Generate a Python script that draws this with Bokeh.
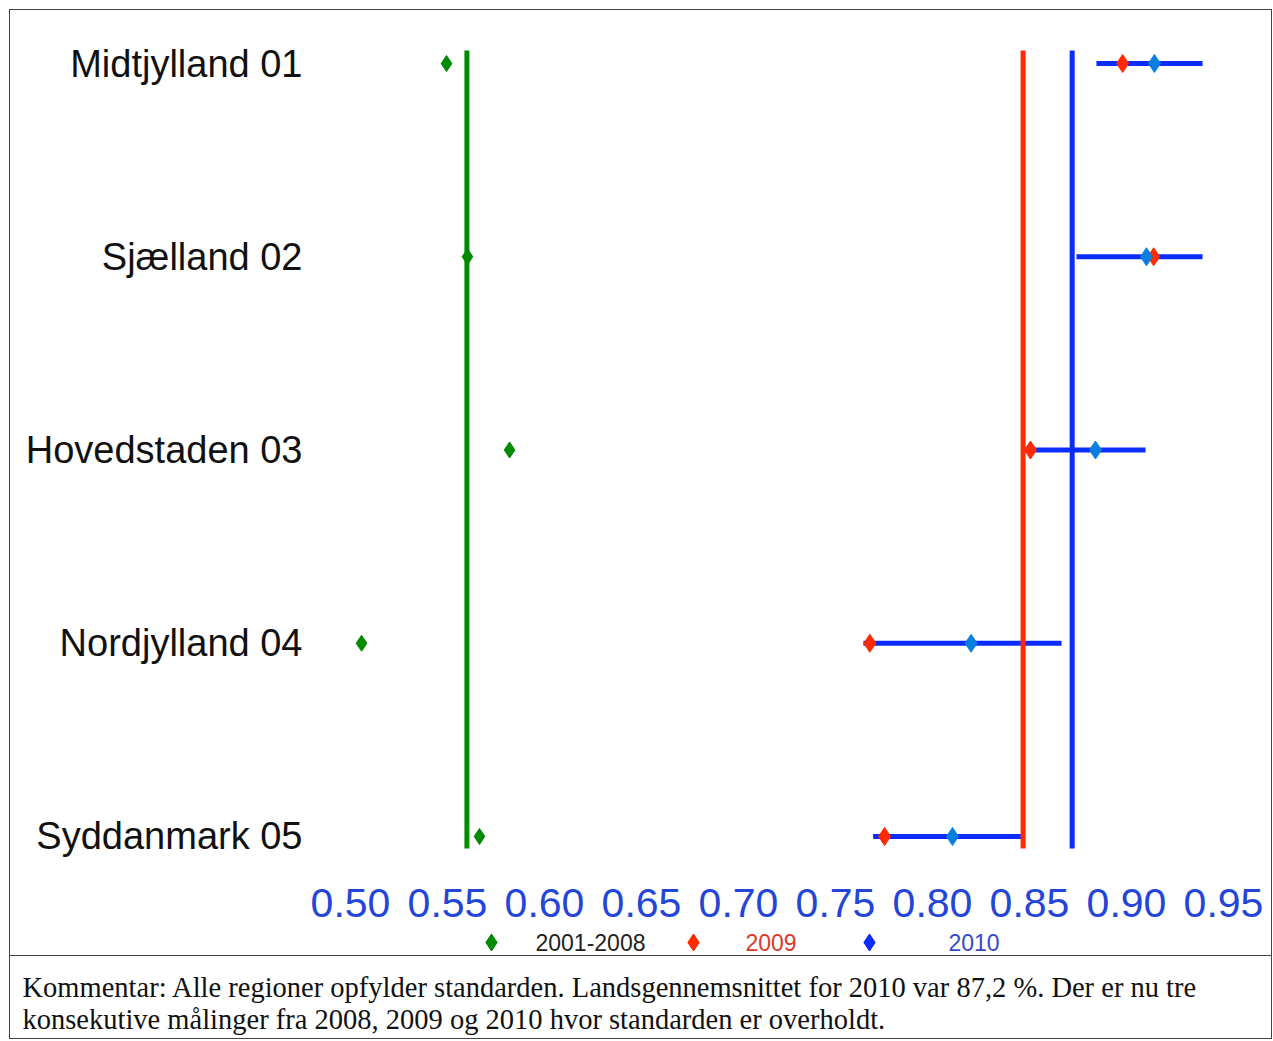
from bokeh.plotting import figure
from bokeh.models import FixedTicker, Range1d, Label, PrintfTickFormatter
from bokeh.layouts import column
from bokeh.core.properties import value
from bokeh.embed import file_html
from bokeh.resources import INLINE

# ---------------- data ----------------
regions = ["Midtjylland 01", "Sjælland 02", "Hovedstaden 03", "Nordjylland 04", "Syddanmark 05"]
avg_2001_2008 = [0.5495, 0.5603, 0.582, 0.5057, 0.5665]
val_2009 = [0.898, 0.9140, 0.8505, 0.7677, 0.7753]
val_2010 = [0.9144, 0.9103, 0.884, 0.8199, 0.8103]
ci_low_2010 = [0.8845, 0.8742, 0.848, 0.7644, 0.7694]
ci_high_2010 = [0.9392, 0.9392, 0.9098, 0.8665, 0.8459]
national_2001_2008 = 0.560
national_2009 = 0.8467
national_2010 = 0.872
x_ticks = [0.50, 0.55, 0.60, 0.65, 0.70, 0.75, 0.80, 0.85, 0.90, 0.95]
legend_labels = ["2001-2008", "2009", "2010"]
comment_lines = [
    "Kommentar: Alle regioner opfylder standarden. Landsgennemsnittet for 2010 var 87,2 %. Der er nu tre",
    "konsekutive målinger fra 2008, 2009 og 2010 hvor standarden er overholdt.",
]

# ---------------- styles ----------------
GREEN = "#008a00"
RED = "#ff2a00"
BLUE = "#0a2cff"
BLUE_PT = "#0a7fe0"
SANS = "Liberation Sans"
W = 1261
BL, BR = 309, 2  # left / right borders of the chart and legend row

n = len(regions)
ypos = [n - i for i in range(n)]

p = figure(width=W, height=920,
           x_range=Range1d(0.484021, 0.973711), y_range=Range1d(0.8137, 5.1708),
           output_backend="svg", toolbar_location=None,
           min_border_left=BL, min_border_right=BR, min_border_top=20, min_border_bottom=58)
p.outline_line_color = None
p.grid.visible = False

# error bars 2010
p.segment(x0=ci_low_2010, x1=ci_high_2010, y0=ypos, y1=ypos, line_color=BLUE, line_width=5)

# national reference lines
ylo, yhi = 0.938, 5.067
for xv, col in [(national_2001_2008, GREEN), (national_2009, RED), (national_2010, BLUE)]:
    p.segment(x0=[xv], x1=[xv], y0=[ylo], y1=[yhi], line_color=col, line_width=5)

# points
p.scatter(x=avg_2001_2008, y=ypos, marker="diamond", size=16, color=GREEN)
p.scatter(x=val_2009, y=ypos, marker="diamond", size=18, color=RED)
p.scatter(x=val_2010, y=ypos, marker="diamond", size=18, color=BLUE_PT)

# axes
xa = p.xaxis[0]
xa.ticker = FixedTicker(ticks=x_ticks)
xa.formatter = PrintfTickFormatter(format="%.2f")
xa.axis_line_color = None
xa.major_tick_line_color = None
xa.minor_tick_line_color = None
xa.major_tick_out = 0
xa.major_label_standoff = 16
xa.major_label_text_font = SANS
xa.major_label_text_font_size = "41px"
xa.major_label_text_color = "#2446d8"

ya = p.yaxis[0]
ya.ticker = FixedTicker(ticks=ypos)
ya.major_label_overrides = {y: r for y, r in zip(ypos, regions)}
ya.axis_line_color = None
ya.major_tick_line_color = None
ya.minor_tick_line_color = None
ya.major_tick_out = 0
ya.major_label_standoff = 17
ya.major_label_text_font = SANS
ya.major_label_text_font_size = "38px"
ya.major_label_text_color = "#111111"

# ---------------- legend row ----------------
p2 = figure(width=W, height=25, x_range=Range1d(319, 1269), y_range=Range1d(25, 0),
            output_backend="svg", toolbar_location=None,
            min_border_left=BL, min_border_right=BR, min_border_top=0, min_border_bottom=0,
            x_axis_location=None, y_axis_location=None)
p2.outline_line_color = None
p2.grid.visible = False
p2.scatter(x=[491, 693, 869], y=[12, 12, 12], marker="diamond", size=17,
           color=[GREEN, RED, BLUE])
p2.text(x=[535, 745, 948], y=[12, 12, 12], text=legend_labels,
        text_color=["#222222", "#d83a2a", "#3448cc"], text_font=value(SANS),
        text_font_size="23px", text_baseline="middle", text_align="left")

# ---------------- comment ----------------
p3 = figure(width=W, height=83, x_range=Range1d(0, W), y_range=Range1d(83, 0),
            output_backend="svg", toolbar_location=None, min_border=0,
            x_axis_location=None, y_axis_location=None,
            styles={"border-top": "1px solid #444444"})
p3.frame_align = False
p3.outline_line_color = None
p3.grid.visible = False
for i, line in enumerate(comment_lines):
    p3.add_layout(Label(x=12, y=31 + 32 * i, text=line, text_font="Liberation Serif",
                        text_font_size="28.5px", text_baseline="middle", text_color="#111111"))

layout = column(p, p2, p3, styles={"border": "1px solid #444444",
                                   "margin-left": "9px", "margin-top": "9px"})
open("out.html", "w").write(file_html(layout, INLINE))
